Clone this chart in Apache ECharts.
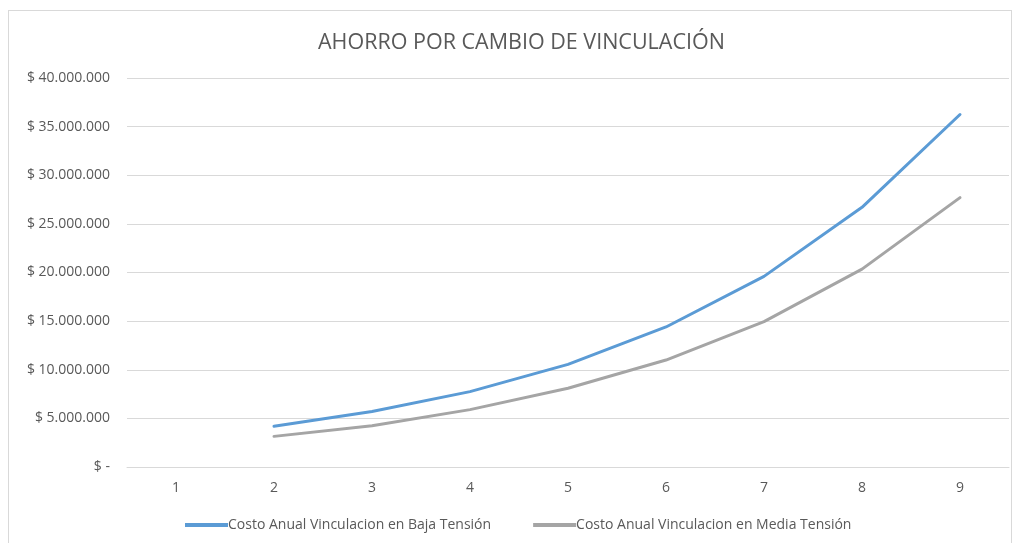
<!DOCTYPE html>
<html><head><meta charset="utf-8">
<script src="https://cdn.jsdelivr.net/npm/echarts@6/dist/echarts.min.js"></script>
<style>
html,body{margin:0;padding:0;background:#fff;}
#frame{position:absolute;left:8px;top:10px;width:1004px;height:540px;border:1px solid #d9d9d9;box-sizing:border-box;}
#c{position:absolute;left:0;top:0;width:1018px;height:543px;}
</style></head>
<body>
<div id="frame"></div>
<div id="c"></div>
<script>
const titleText = 'AHORRO POR CAMBIO DE VINCULACIÓN';
const categories = ['1','2','3','4','5','6','7','8','9'];
const seriesNames = ['Costo Anual Vinculacion en Baja Tensión','Costo Anual Vinculacion en Media Tensión'];
const bajaTension = [null, 4200000, 5700000, 7750000, 10550000, 14400000, 19600000, 26700000, 36250000];
const mediaTension = [null, 3150000, 4250000, 5900000, 8100000, 11000000, 14950000, 20350000, 27700000];
const yTicks = {min:0, max:40000000, interval:5000000};

function fmt(v){
  if(v===0) return '$ -';
  return '$ ' + String(Math.round(v)).replace(/\B(?=(\d{3})+(?!\d))/g,'.');
}
const chart = echarts.init(document.getElementById('c'));
const font = '"Open Sans", Lato, sans-serif';
chart.setOption({
  animation:false,
  title:{text:titleText,left:313,top:27,textStyle:{fontFamily:font,fontSize:21.5,fontWeight:'normal',color:'#595959'}},
  legend:{bottom:6,left:180,itemWidth:43,itemHeight:4,itemGap:42,icon:'rect',
    textStyle:{fontFamily:font,fontSize:14,color:'#595959',padding:[0,0,0,-5]},
    data:seriesNames},
  grid:{left:127,right:9,top:78,bottom:76,containLabel:false},
  xAxis:{type:'category',data:categories,boundaryGap:true,
    axisLine:{lineStyle:{color:'#d9d9d9'}},axisTick:{show:false},
    axisLabel:{fontFamily:font,fontSize:14,color:'#595959',margin:14}},
  yAxis:{type:'value',min:yTicks.min,max:yTicks.max,interval:yTicks.interval,
    axisLine:{show:false},axisTick:{show:false},
    splitLine:{lineStyle:{color:'#d9d9d9',width:1}},
    axisLabel:{fontFamily:font,fontSize:14,color:'#595959',margin:17,formatter:fmt}},
  series:[
    {name:seriesNames[0],type:'line',data:bajaTension,symbol:'none',lineStyle:{color:'#5b9bd5',width:3,cap:'round'},itemStyle:{color:'#5b9bd5'}},
    {name:seriesNames[1],type:'line',data:mediaTension,symbol:'none',lineStyle:{color:'#a5a5a5',width:3,cap:'round'},itemStyle:{color:'#a5a5a5'}}
  ]
});
</script>
</body></html>
